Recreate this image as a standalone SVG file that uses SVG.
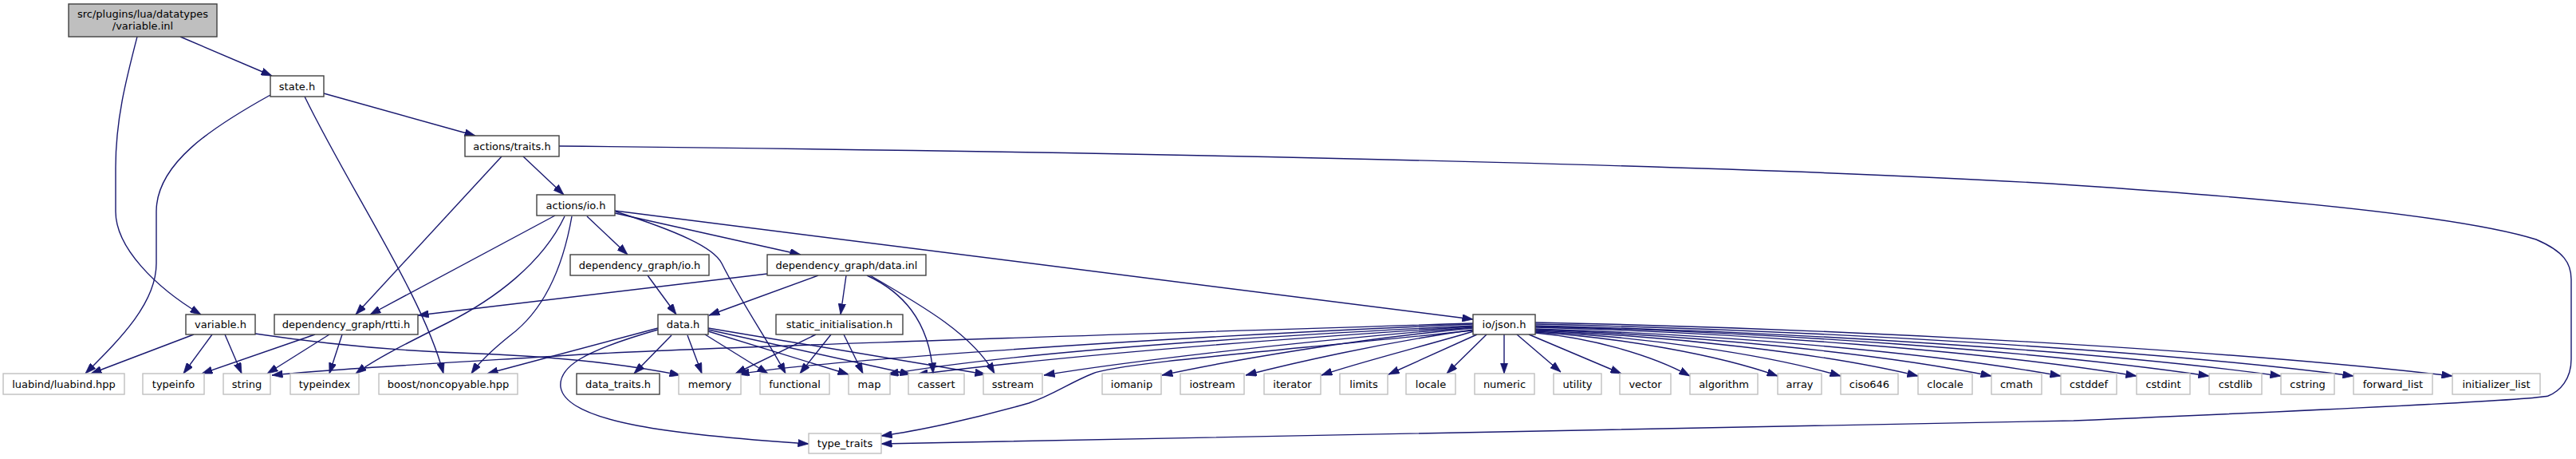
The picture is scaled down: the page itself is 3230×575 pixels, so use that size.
<svg xmlns="http://www.w3.org/2000/svg" width="3230" height="575" viewBox="0 0 3230 575">
<style>
  .n rect{fill:#ffffff;stroke:#404040;stroke-width:1.4}
  .x rect{fill:#ffffff;stroke:#bfbfbf;stroke-width:1.4}
  .r rect{fill:#bfbfbf;stroke:#404040;stroke-width:1.4}
  text{font-family:"DejaVu Sans","Liberation Sans",sans-serif;font-size:13px;fill:#000000;text-anchor:middle}
  #edges path{fill:none;stroke:#191970;stroke-width:1.4;marker-end:url(#ah)}
</style>
<defs>
  <marker id="ah" viewBox="0 0 10 7" refX="10" refY="3.5" markerWidth="13.5" markerHeight="9.5" markerUnits="userSpaceOnUse" orient="auto">
    <path d="M0,0 L10,3.5 L0,7 z" fill="#191970" stroke="#191970" stroke-width="0.5"/>
  </marker>
</defs>
<rect width="3230" height="575" fill="#ffffff"/>
<g id="edges">
  <path d="M226,46 L341,95"/>
  <path d="M172,46 C158,100 145,150 145,210 L145,265 C145,310 195,360 252,394"/>
  <path d="M406,117 L596,170"/>
  <path d="M339,119 C265,160 196,205 196,265 L196,330 C196,380 150,425 107,468"/>
  <path d="M382,121 C440,240 530,370 556,468"/>
  <path d="M656,196 L707,244"/>
  <path d="M629,196 L446,394"/>
  <path d="M701,183 C1600,192 2300,212 2600,232 C2900,252 3100,275 3180,300 C3215,315 3224,330 3224,350 L3224,450 C3224,475 3210,490 3195,496 C3180,500 3000,510 2600,527 L1105,556"/>
  <path d="M696,270 L464,394"/>
  <path d="M708,271 C680,330 620,375 560,405 C510,430 470,450 446,468"/>
  <path d="M717,271 C705,340 680,390 640,420 C615,440 600,455 591,468"/>
  <path d="M736,271 L787,319"/>
  <path d="M771,267 L1004,319"/>
  <path d="M771,264 L1847,400"/>
  <path d="M772,265 C850,290 895,310 905,330 C930,380 965,430 985,468"/>
  <path d="M812,345 L848,394"/>
  <path d="M1026,345 L889,395"/>
  <path d="M1061,345 L1054,394"/>
  <path d="M962,343 L524,395"/>
  <path d="M1087,345 C1130,365 1165,400 1170,468"/>
  <path d="M1091,345 C1160,385 1220,420 1247,468"/>
  <path d="M842,420 L795,468"/>
  <path d="M862,420 L880,468"/>
  <path d="M884,419 L963,468"/>
  <path d="M888,415 L1064,469"/>
  <path d="M888,413 L1142,469"/>
  <path d="M888,411 L1236,469"/>
  <path d="M825,413 C730,440 700,460 703,485 C710,530 850,545 1014,556"/>
  <path d="M825,411 L611,468"/>
  <path d="M243,419 L114,468"/>
  <path d="M266,419 L230,468"/>
  <path d="M282,419 L303,468"/>
  <path d="M320,418 C400,430 500,440 600,443 C700,447 780,455 853,470"/>
  <path d="M395,419 L253,468"/>
  <path d="M413,419 L335,468"/>
  <path d="M429,419 L413,468"/>
  <path d="M1023,419 L922,468"/>
  <path d="M1042,419 L1003,468"/>
  <path d="M1058,419 L1082,468"/>
  <path d="M1847,405 C1300,422 800,438 700,446 C550,455 420,462 341,470"/>
  <path d="M1847,406 C1400,425 1000,455 926,469"/>
  <path d="M1847,408 C1500,425 1250,445 1113,469"/>
  <path d="M1847,409 C1550,428 1300,450 1150,469"/>
  <path d="M1847,410 C1600,430 1400,455 1309,470"/>
  <path d="M1847,414 C1600,440 1400,455 1370,468 C1340,480 1320,495 1290,505 C1220,525 1150,540 1105,546"/>
  <path d="M1847,411 C1700,425 1550,450 1457,470"/>
  <path d="M1847,413 C1730,430 1620,455 1562,470"/>
  <path d="M1848,415 C1780,435 1700,455 1657,470"/>
  <path d="M1852,419 L1741,469"/>
  <path d="M1864,419 L1814,468"/>
  <path d="M1886,419 L1886,468"/>
  <path d="M1902,419 L1957,466"/>
  <path d="M1917,419 L2033,468"/>
  <path d="M1925,417 C1993,423 2070,444 2119,471"/>
  <path d="M1925,416 C2031,423 2153,444 2229,471"/>
  <path d="M1925,415 C2059,422 2212,443 2308,471"/>
  <path d="M1925,414 C2093,421 2285,442 2405,471"/>
  <path d="M1925,413 C2125,420 2354,442 2497,471"/>
  <path d="M1925,412 C2156,419 2419,441 2584,471"/>
  <path d="M1925,410 C2189,417 2490,440 2679,471"/>
  <path d="M1925,409 C2221,416 2559,440 2770,471"/>
  <path d="M1925,408 C2252,416 2626,439 2860,471"/>
  <path d="M1925,406 C2284,414 2695,438 2951,471"/>
  <path d="M1925,404 C2327,412 2787,438 3075,471"/>
</g>
<g id="node-root" class="r"><rect x="86" y="5" width="186" height="41"/><text x="179" y="22">src/plugins/lua/datatypes</text><text x="179" y="37">/variable.inl</text></g>
<g id="node-state" class="n"><rect x="339" y="95" width="67" height="26"/><text x="372.5" y="112.5">state.h</text></g>
<g id="node-traits" class="n"><rect x="583" y="170" width="118" height="26"/><text x="642" y="187.5">actions/traits.h</text></g>
<g id="node-actions-io" class="n"><rect x="673" y="244" width="98" height="26"/><text x="722" y="261.5">actions/io.h</text></g>
<g id="node-dg-io" class="n"><rect x="715" y="319" width="174" height="26"/><text x="802" y="336.5">dependency_graph/io.h</text></g>
<g id="node-dg-data" class="n"><rect x="962" y="319" width="199" height="26"/><text x="1061.5" y="336.5">dependency_graph/data.inl</text></g>
<g id="node-variable" class="n"><rect x="233" y="394" width="87" height="25"/><text x="276.5" y="411">variable.h</text></g>
<g id="node-rtti" class="n"><rect x="344" y="394" width="180" height="25"/><text x="434" y="411">dependency_graph/rtti.h</text></g>
<g id="node-data" class="n"><rect x="825" y="394" width="63" height="25"/><text x="856.5" y="411">data.h</text></g>
<g id="node-static" class="n"><rect x="973" y="394" width="159" height="25"/><text x="1052.5" y="411">static_initialisation.h</text></g>
<g id="node-json" class="n"><rect x="1847" y="394" width="78" height="25"/><text x="1886" y="411">io/json.h</text></g>
<g id="node-data-traits" class="n"><rect x="723" y="468" width="104" height="26"/><text x="775" y="485.5">data_traits.h</text></g>
<g id="node-luabind" class="x"><rect x="4" y="468" width="152" height="26"/><text x="80" y="485.5">luabind/luabind.hpp</text></g>
<g id="node-typeinfo" class="x"><rect x="179" y="468" width="77" height="26"/><text x="217.5" y="485.5">typeinfo</text></g>
<g id="node-string" class="x"><rect x="280" y="468" width="59" height="26"/><text x="309.5" y="485.5">string</text></g>
<g id="node-typeindex" class="x"><rect x="364" y="468" width="86" height="26"/><text x="407" y="485.5">typeindex</text></g>
<g id="node-noncopyable" class="x"><rect x="475" y="468" width="174" height="26"/><text x="562" y="485.5">boost/noncopyable.hpp</text></g>
<g id="node-memory" class="x"><rect x="851" y="468" width="78" height="26"/><text x="890" y="485.5">memory</text></g>
<g id="node-functional" class="x"><rect x="953" y="468" width="87" height="26"/><text x="996.5" y="485.5">functional</text></g>
<g id="node-map" class="x"><rect x="1064" y="468" width="52" height="26"/><text x="1090" y="485.5">map</text></g>
<g id="node-cassert" class="x"><rect x="1139" y="468" width="70" height="26"/><text x="1174" y="485.5">cassert</text></g>
<g id="node-sstream" class="x"><rect x="1233" y="468" width="74" height="26"/><text x="1270" y="485.5">sstream</text></g>
<g id="node-type-traits" class="x"><rect x="1014" y="543" width="91" height="25"/><text x="1059.5" y="560">type_traits</text></g>
<g id="node-iomanip" class="x"><rect x="1382" y="468" width="74" height="26"/><text x="1419" y="485.5">iomanip</text></g>
<g id="node-iostream" class="x"><rect x="1480" y="468" width="80" height="26"/><text x="1520" y="485.5">iostream</text></g>
<g id="node-iterator" class="x"><rect x="1585" y="468" width="71" height="26"/><text x="1620.5" y="485.5">iterator</text></g>
<g id="node-limits" class="x"><rect x="1680" y="468" width="60" height="26"/><text x="1710" y="485.5">limits</text></g>
<g id="node-locale" class="x"><rect x="1763" y="468" width="62" height="26"/><text x="1794" y="485.5">locale</text></g>
<g id="node-numeric" class="x"><rect x="1849" y="468" width="75" height="26"/><text x="1886.5" y="485.5">numeric</text></g>
<g id="node-utility" class="x"><rect x="1948" y="468" width="60" height="26"/><text x="1978" y="485.5">utility</text></g>
<g id="node-vector" class="x"><rect x="2031" y="468" width="64" height="26"/><text x="2063" y="485.5">vector</text></g>
<g id="node-algorithm" class="x"><rect x="2119" y="468" width="85" height="26"/><text x="2161.5" y="485.5">algorithm</text></g>
<g id="node-array" class="x"><rect x="2229" y="468" width="55" height="26"/><text x="2256.5" y="485.5">array</text></g>
<g id="node-ciso646" class="x"><rect x="2308" y="468" width="72" height="26"/><text x="2344" y="485.5">ciso646</text></g>
<g id="node-clocale" class="x"><rect x="2405" y="468" width="68" height="26"/><text x="2439" y="485.5">clocale</text></g>
<g id="node-cmath" class="x"><rect x="2497" y="468" width="63" height="26"/><text x="2528.5" y="485.5">cmath</text></g>
<g id="node-cstddef" class="x"><rect x="2584" y="468" width="70" height="26"/><text x="2619" y="485.5">cstddef</text></g>
<g id="node-cstdint" class="x"><rect x="2679" y="468" width="67" height="26"/><text x="2712.5" y="485.5">cstdint</text></g>
<g id="node-cstdlib" class="x"><rect x="2770" y="468" width="66" height="26"/><text x="2803" y="485.5">cstdlib</text></g>
<g id="node-cstring" class="x"><rect x="2860" y="468" width="67" height="26"/><text x="2893.5" y="485.5">cstring</text></g>
<g id="node-forward-list" class="x"><rect x="2951" y="468" width="99" height="26"/><text x="3000.5" y="485.5">forward_list</text></g>
<g id="node-initializer-list" class="x"><rect x="3075" y="468" width="110" height="26"/><text x="3130" y="485.5">initializer_list</text></g>
</svg>
